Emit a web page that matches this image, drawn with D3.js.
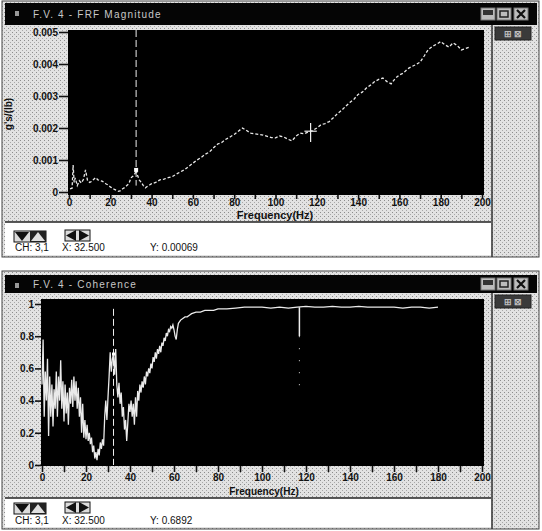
<!DOCTYPE html>
<html>
<head>
<meta charset="utf-8" />
<script src="https://d3js.org/d3.v7.min.js"></script>
<style>
  body { margin: 0; background: #fff; }
  text { font-family: "Liberation Sans", Arial, sans-serif; }
</style>
</head>
<body>
<div id="chart"></div>
<script>
// ---- data ----
const xTickVals = [0, 10, 20, 30, 40, 50, 60, 70, 80, 90, 100, 110, 120, 130, 140, 150, 160, 170, 180, 190, 200];

const frfYTicks = [0, 0.001, 0.002, 0.003, 0.004, 0.005];
const frfYLabels = ["0", "0.001", "0.002", "0.003", "0.004", "0.005"];
const cohYTicks = [0, 0.2, 0.4, 0.6, 0.8, 1];
const cohYLabels = ["0", "0.2", "0.4", "0.6", "0.8", "1"];

// FRF magnitude, g's/(lb)
const frfFreq = [0.5, 1.5, 2, 2.5, 3, 4, 5, 6, 7, 8, 9, 10, 11, 12, 13, 14, 15, 16, 17, 18, 19, 20,
  21, 22, 23, 24, 25, 26, 27, 28, 29, 30, 31, 32, 32.5, 33, 34, 35, 36, 37, 38, 39, 40, 42, 44, 46, 48,
  50, 52, 54, 56, 58, 60, 62, 64, 66, 68, 70, 72, 74, 76, 78, 80, 82, 84, 86, 88, 90, 92, 94, 96, 98,
  100, 102, 104, 106, 108, 110, 112, 114, 116, 118, 120, 122, 124, 126, 128, 130, 132, 134, 136, 138,
  140, 142, 144, 146, 148, 150, 152, 154, 156, 158, 160, 162, 164, 166, 168, 170, 172, 174, 176, 178,
  180, 182, 184, 186, 188, 190, 192, 194];
const frfMag = [0.00010, 0.00012, 0.00084, 0.00030, 0.00044, 0.00020, 0.00035, 0.00028, 0.00040, 0.00069,
  0.00035, 0.00030, 0.00033, 0.00040, 0.00045, 0.00038, 0.00036, 0.00034, 0.00030, 0.00025, 0.00022, 0.00016,
  0.00012, 0.00008, 0.00005, 0.00002, 0.00004, 0.00010, 0.00014, 0.00020, 0.00026, 0.00044, 0.00050, 0.00058,
  0.00069, 0.00055, 0.00038, 0.00030, 0.00020, 0.00013, 0.00018, 0.00022, 0.00026, 0.00030, 0.00038, 0.00040,
  0.00045, 0.00048, 0.00056, 0.00063, 0.00070, 0.00080, 0.00090, 0.00100, 0.00108, 0.00118, 0.00125, 0.00138,
  0.00150, 0.00155, 0.00165, 0.00172, 0.00180, 0.00190, 0.00200, 0.00192, 0.00184, 0.00182, 0.00180, 0.00178,
  0.00174, 0.00170, 0.00169, 0.00175, 0.00172, 0.00165, 0.00160, 0.00175, 0.00184, 0.00182, 0.00188, 0.00192,
  0.00200, 0.00210, 0.00214, 0.00220, 0.00232, 0.00245, 0.00255, 0.00268, 0.00280, 0.00290, 0.00305, 0.00312,
  0.00325, 0.00334, 0.00345, 0.00352, 0.00356, 0.00345, 0.00338, 0.00355, 0.00366, 0.00372, 0.00385, 0.00392,
  0.00398, 0.00406, 0.00425, 0.00445, 0.00455, 0.00462, 0.00470, 0.00460, 0.00453, 0.00466, 0.00458, 0.00444,
  0.00448, 0.00453];
const frfSpike = [117, 0.00156, 0.00216];

// Coherence
const cohFreq = [0, 0.5, 1, 1.5, 2, 2.5, 3, 3.5, 4, 4.5, 5, 5.5, 6, 6.5, 7, 7.5, 8, 8.5, 9, 9.5,
  10, 10.5, 11, 11.5, 12, 12.5, 13, 13.5, 14, 14.5, 15, 15.5, 16, 16.5, 17, 17.5, 18, 18.5, 19, 19.5,
  20, 20.5, 21, 21.5, 22, 22.5, 23, 23.5, 24, 24.5, 25, 25.5, 26, 26.5, 27, 27.5, 28, 28.5, 29, 29.5,
  30, 30.5, 31, 31.5, 32, 32.5, 33, 33.5, 34, 34.5, 35, 35.5, 36, 36.5, 37, 37.5, 38, 38.5, 39, 39.5,
  40, 40.5, 41, 41.5, 42, 42.5, 43, 43.5, 44, 44.5, 45, 45.5, 46, 46.5, 47, 47.5, 48, 48.5, 49, 49.5,
  50, 50.5, 51, 51.5, 52, 52.5, 53, 53.5, 54, 54.5, 55, 55.5, 56, 56.5, 57, 57.5, 58, 58.5, 59, 59.5,
  60, 60.5, 61, 61.5, 62, 63, 64, 65, 66, 67, 68, 70, 72, 74, 76, 78, 80, 84, 88, 92, 96, 100, 104,
  108, 112, 116, 120, 124, 128, 132, 136, 140, 144, 148, 152, 156, 160, 164, 168, 172, 176, 180, 184, 188];
const cohVal = [0.50, 0.78, 0.30, 0.58, 0.40, 0.66, 0.18, 0.55, 0.30, 0.50, 0.24, 0.47, 0.35, 0.58, 0.30, 0.55,
  0.40, 0.65, 0.35, 0.52, 0.27, 0.50, 0.32, 0.45, 0.25, 0.48, 0.38, 0.53, 0.36, 0.55, 0.40, 0.52, 0.35, 0.48,
  0.30, 0.42, 0.20, 0.38, 0.17, 0.28, 0.16, 0.25, 0.15, 0.20, 0.13, 0.17, 0.08, 0.12, 0.04, 0.08, 0.03, 0.10,
  0.06, 0.14, 0.10, 0.16, 0.12, 0.30, 0.40, 0.28, 0.42, 0.55, 0.70, 0.58, 0.66, 0.69, 0.56, 0.72, 0.50, 0.42,
  0.51, 0.38, 0.45, 0.30, 0.36, 0.22, 0.28, 0.15, 0.26, 0.38, 0.33, 0.40, 0.30, 0.38, 0.25, 0.42, 0.30, 0.46,
  0.40, 0.50, 0.45, 0.52, 0.48, 0.55, 0.50, 0.58, 0.55, 0.60, 0.57, 0.63, 0.60, 0.67, 0.64, 0.70, 0.66, 0.72,
  0.69, 0.74, 0.70, 0.76, 0.74, 0.79, 0.77, 0.82, 0.80, 0.84, 0.83, 0.86, 0.85, 0.87, 0.84, 0.80, 0.78, 0.84,
  0.88, 0.90, 0.91, 0.92, 0.92, 0.93, 0.94, 0.95, 0.95, 0.96, 0.96, 0.96, 0.97, 0.97, 0.975, 0.98, 0.98, 0.98,
  0.975, 0.98, 0.975, 0.98, 0.985, 0.98, 0.98, 0.985, 0.98, 0.98, 0.985, 0.98, 0.98, 0.98, 0.98, 0.975, 0.98,
  0.98, 0.975, 0.98];
const cohSpike = [117, 0.80, 0.45];

const cursorFreq = 32.5;
const frfCursorVal = 0.00069;
const cohCursorVal = 0.6892;

// ---- drawing ----
const svg = d3.select("#chart").append("svg")
  .attr("width", 542).attr("height", 531);

const defs = svg.append("defs");
const pat = defs.append("pattern").attr("id", "stip")
  .attr("width", 4).attr("height", 4).attr("patternUnits", "userSpaceOnUse");
pat.append("rect").attr("width", 4).attr("height", 4).attr("fill", "#e2e2e2");
pat.append("rect").attr("x", 0).attr("y", 0).attr("width", 1).attr("height", 1).attr("fill", "#8c8c8c");
pat.append("rect").attr("x", 2).attr("y", 2).attr("width", 1).attr("height", 1).attr("fill", "#a8a8a8");

function drawWindow(o) {
  const g = svg.append("g");

  // frame + title bar
  g.append("rect").attr("x", 2).attr("y", o.top).attr("width", 537).attr("height", o.bottom - o.top)
    .attr("fill", "url(#stip)").attr("stroke", "#444");
  g.append("rect").attr("x", 5).attr("y", o.titleTop).attr("width", 532).attr("height", o.titleBottom - o.titleTop)
    .attr("fill", "#050505");
  g.append("rect").attr("x", 15).attr("y", o.titleTop + 8).attr("width", 4).attr("height", 5).attr("fill", "#999");
  g.append("text").attr("x", 33).attr("y", (o.titleTop + o.titleBottom) / 2 + 3.5)
    .attr("fill", "#c8c8c8").attr("font-size", 10).attr("letter-spacing", 1.2)
    .text(o.title);

  // title bar buttons
  const by = (o.titleTop + o.titleBottom) / 2 - 6;
  [481, 497, 514].forEach((bx, i) => {
    g.append("rect").attr("x", bx).attr("y", by).attr("width", 14).attr("height", 12)
      .attr("fill", "#bdbdbd").attr("stroke", "#777");
    if (i === 0) g.append("rect").attr("x", bx + 2).attr("y", by + 2).attr("width", 10).attr("height", 5).attr("fill", "#333");
    if (i === 1) g.append("rect").attr("x", bx + 3).attr("y", by + 3).attr("width", 8).attr("height", 6)
      .attr("fill", "none").attr("stroke", "#222").attr("stroke-width", 1.5);
    if (i === 2) g.append("path").attr("d", `M${bx + 3},${by + 2}L${bx + 11},${by + 10}M${bx + 11},${by + 2}L${bx + 3},${by + 10}`)
      .attr("stroke", "#111").attr("stroke-width", 2.2);
  });

  // right side panel
  g.append("line").attr("x1", 492).attr("x2", 492).attr("y1", o.titleBottom).attr("y2", o.bottom)
    .attr("stroke", "#333").attr("stroke-width", 1.5);
  g.append("rect").attr("x", 495).attr("y", o.titleBottom + 2).attr("width", 36).attr("height", 13)
    .attr("fill", "#3a3a3a").attr("stroke", "#222");
  g.append("text").attr("x", 513).attr("y", o.titleBottom + 12).attr("text-anchor", "middle")
    .attr("fill", "#bbb").attr("font-size", 9).attr("font-weight", "bold").text("⊞ ⊠");

  // status band
  g.append("rect").attr("x", 5).attr("y", o.statusY).attr("width", 486).attr("height", o.bottom - 2 - o.statusY)
    .attr("fill", "#fff");
  g.append("line").attr("x1", 5).attr("x2", 491).attr("y1", o.statusY).attr("y2", o.statusY)
    .attr("stroke", "#222").attr("stroke-width", 1.5);

  const sy = o.statusY + o.btnOff;
  g.append("rect").attr("x", 14).attr("y", sy).attr("width", 32).attr("height", 11)
    .attr("fill", "#ddd").attr("stroke", "#111");
  g.append("path").attr("d", `M15,${sy + 1}L29,${sy + 1}L22,${sy + 10}Z`).attr("fill", "#111");
  g.append("rect").attr("x", 30).attr("y", sy).attr("width", 16).attr("height", 11).attr("fill", "#222");
  g.append("path").attr("d", `M31,${sy + 10}L45,${sy + 10}L38,${sy + 1}Z`).attr("fill", "#e0e0e0");
  g.append("rect").attr("x", 65).attr("y", sy - 1).attr("width", 25).attr("height", 11)
    .attr("fill", "#ddd").attr("stroke", "#111");
  g.append("path").attr("d", `M66,${sy + 4.5}L76,${sy - 1}L76,${sy + 10}Z`).attr("fill", "#111");
  g.append("path").attr("d", `M89,${sy + 4.5}L79,${sy - 1}L79,${sy + 10}Z`).attr("fill", "#111");

  const st = g.append("text").attr("y", o.statusText).attr("font-size", 10).attr("fill", "#111");
  st.append("tspan").attr("x", 15).text("CH: 3,1");
  st.append("tspan").attr("x", 62).text("X: 32.500");
  st.append("tspan").attr("x", 150).text(o.statusY_label);

  // plot area
  const p = o.plot;
  g.append("rect").attr("x", p.x0).attr("y", p.y0).attr("width", p.x1 - p.x0).attr("height", p.y1 - p.y0)
    .attr("fill", "#000");

  const x = d3.scaleLinear().domain([0, 200]).range(o.xRange);
  const y = d3.scaleLinear().domain(o.yDomain).range(o.yRange);

  const xAxis = g.append("g").attr("transform", `translate(0,${p.y1})`)
    .call(d3.axisBottom(x).tickValues(xTickVals).tickSize(o.xTickSize).tickPadding(o.xTickPad)
      .tickFormat(d => d % 20 === 0 ? String(d) : ""));
  xAxis.select(".domain").remove();
  xAxis.selectAll("line").attr("stroke", "#111").attr("stroke-width", 1.6);
  xAxis.selectAll("text").attr("font-size", 10).attr("font-weight", "bold").attr("fill", "#111")
    .attr("font-family", "Liberation Sans, Arial, sans-serif");

  const yAxis = g.append("g").attr("transform", `translate(${p.x0},0)`)
    .call(d3.axisLeft(y).tickValues(o.yTicks).tickSize(o.yTickSize).tickPadding(1)
      .tickFormat((d, i) => o.yLabels[i]));
  yAxis.select(".domain").remove();
  yAxis.selectAll("line").attr("stroke", "#111").attr("stroke-width", 1.6);
  yAxis.selectAll("text").attr("font-size", 10).attr("font-weight", "bold").attr("fill", "#111")
    .attr("font-family", "Liberation Sans, Arial, sans-serif");

  g.append("text").attr("x", o.xLabelX).attr("y", o.xLabelY)
    .attr("text-anchor", "middle").attr("font-size", o.xLabelSize).attr("font-weight", "bold").attr("fill", "#111")
    .text("Frequency(Hz)");

  if (o.yTitle) {
    g.append("text").attr("transform", `translate(12,${o.yTitleY}) rotate(-90)`)
      .attr("text-anchor", "middle").attr("font-size", 10).attr("font-weight", "bold").attr("fill", "#111")
      .text(o.yTitle);
  }

  const clipId = "clip" + o.id;
  defs.append("clipPath").attr("id", clipId).append("rect")
    .attr("x", p.x0).attr("y", p.y0).attr("width", p.x1 - p.x0).attr("height", p.y1 - p.y0);
  const plot = g.append("g").attr("clip-path", `url(#${clipId})`);

  return { x, y, plot };
}

// FRF magnitude window
const w1 = drawWindow({
  id: 1, top: 1, bottom: 257, titleTop: 3, titleBottom: 25, title: "F.V. 4 - FRF Magnitude",
  statusY: 222, btnOff: 9, statusText: 251, statusY_label: "Y: 0.00069",
  plot: { x0: 68, x1: 484, y0: 30, y1: 195 }, xRange: [69, 482],
  yDomain: [0, 0.005], yRange: [192, 32], yTicks: frfYTicks, yLabels: frfYLabels,
  xTickSize: 4, xTickPad: 0, yTickSize: 9,
  xLabelX: 275, xLabelY: 219, xLabelSize: 11, yTitle: "g's/(lb)", yTitleY: 114
});

w1.plot.append("line").attr("x1", w1.x(cursorFreq)).attr("x2", w1.x(cursorFreq))
  .attr("y1", 30).attr("y2", w1.y(0.0002))
  .attr("stroke", "#eee").attr("stroke-width", 1).attr("stroke-dasharray", "7,3");

w1.plot.append("path")
  .datum(frfFreq.map((f, i) => [f, frfMag[i]]))
  .attr("fill", "none").attr("stroke", "#e8e8e8").attr("stroke-width", 1.3)
  .attr("stroke-dasharray", "3,2")
  .attr("d", d3.line().x(d => w1.x(d[0])).y(d => w1.y(d[1])));

w1.plot.append("line").attr("x1", w1.x(frfSpike[0])).attr("x2", w1.x(frfSpike[0]))
  .attr("y1", w1.y(frfSpike[1])).attr("y2", w1.y(frfSpike[2]))
  .attr("stroke", "#eee").attr("stroke-width", 1.2);
w1.plot.append("line").attr("x1", w1.x(frfSpike[0] - 3)).attr("x2", w1.x(frfSpike[0] + 3))
  .attr("y1", w1.y(0.0019)).attr("y2", w1.y(0.0019))
  .attr("stroke", "#eee").attr("stroke-width", 1.2);

w1.plot.append("rect").attr("x", w1.x(cursorFreq) - 2).attr("y", w1.y(frfCursorVal) - 2)
  .attr("width", 4).attr("height", 4).attr("fill", "#fff");

// Coherence window
const w2 = drawWindow({
  id: 2, top: 271, bottom: 529, titleTop: 275, titleBottom: 293, title: "F.V. 4 - Coherence",
  statusY: 498, btnOff: 5, statusText: 524, statusY_label: "Y: 0.6892",
  plot: { x0: 41, x1: 484, y0: 299, y1: 466 }, xRange: [42, 482],
  yDomain: [0, 1], yRange: [465, 304], yTicks: cohYTicks, yLabels: cohYLabels,
  xTickSize: 6, xTickPad: 2, yTickSize: 6,
  xLabelX: 264, xLabelY: 495, xLabelSize: 10, yTitle: null
});

w2.plot.append("line").attr("x1", w2.x(cursorFreq)).attr("x2", w2.x(cursorFreq))
  .attr("y1", w2.y(0.97)).attr("y2", w2.y(0))
  .attr("stroke", "#eee").attr("stroke-width", 1).attr("stroke-dasharray", "7,3");

w2.plot.append("path")
  .datum(cohFreq.map((f, i) => [f, cohVal[i]]))
  .attr("fill", "none").attr("stroke", "#eaeaea").attr("stroke-width", 1.3)
  .attr("d", d3.line().x(d => w2.x(d[0])).y(d => w2.y(d[1])));

w2.plot.append("line").attr("x1", w2.x(cohSpike[0])).attr("x2", w2.x(cohSpike[0]))
  .attr("y1", w2.y(0.98)).attr("y2", w2.y(cohSpike[1]))
  .attr("stroke", "#eee").attr("stroke-width", 1.5);
w2.plot.append("line").attr("x1", w2.x(cohSpike[0])).attr("x2", w2.x(cohSpike[0]))
  .attr("y1", w2.y(cohSpike[1])).attr("y2", w2.y(cohSpike[2]))
  .attr("stroke", "#ddd").attr("stroke-width", 1).attr("stroke-dasharray", "1,11");

w2.plot.append("rect").attr("x", w2.x(cursorFreq) - 1.5).attr("y", w2.y(cohCursorVal) - 1.5)
  .attr("width", 3).attr("height", 3).attr("fill", "#fff");
</script>
</body>
</html>
